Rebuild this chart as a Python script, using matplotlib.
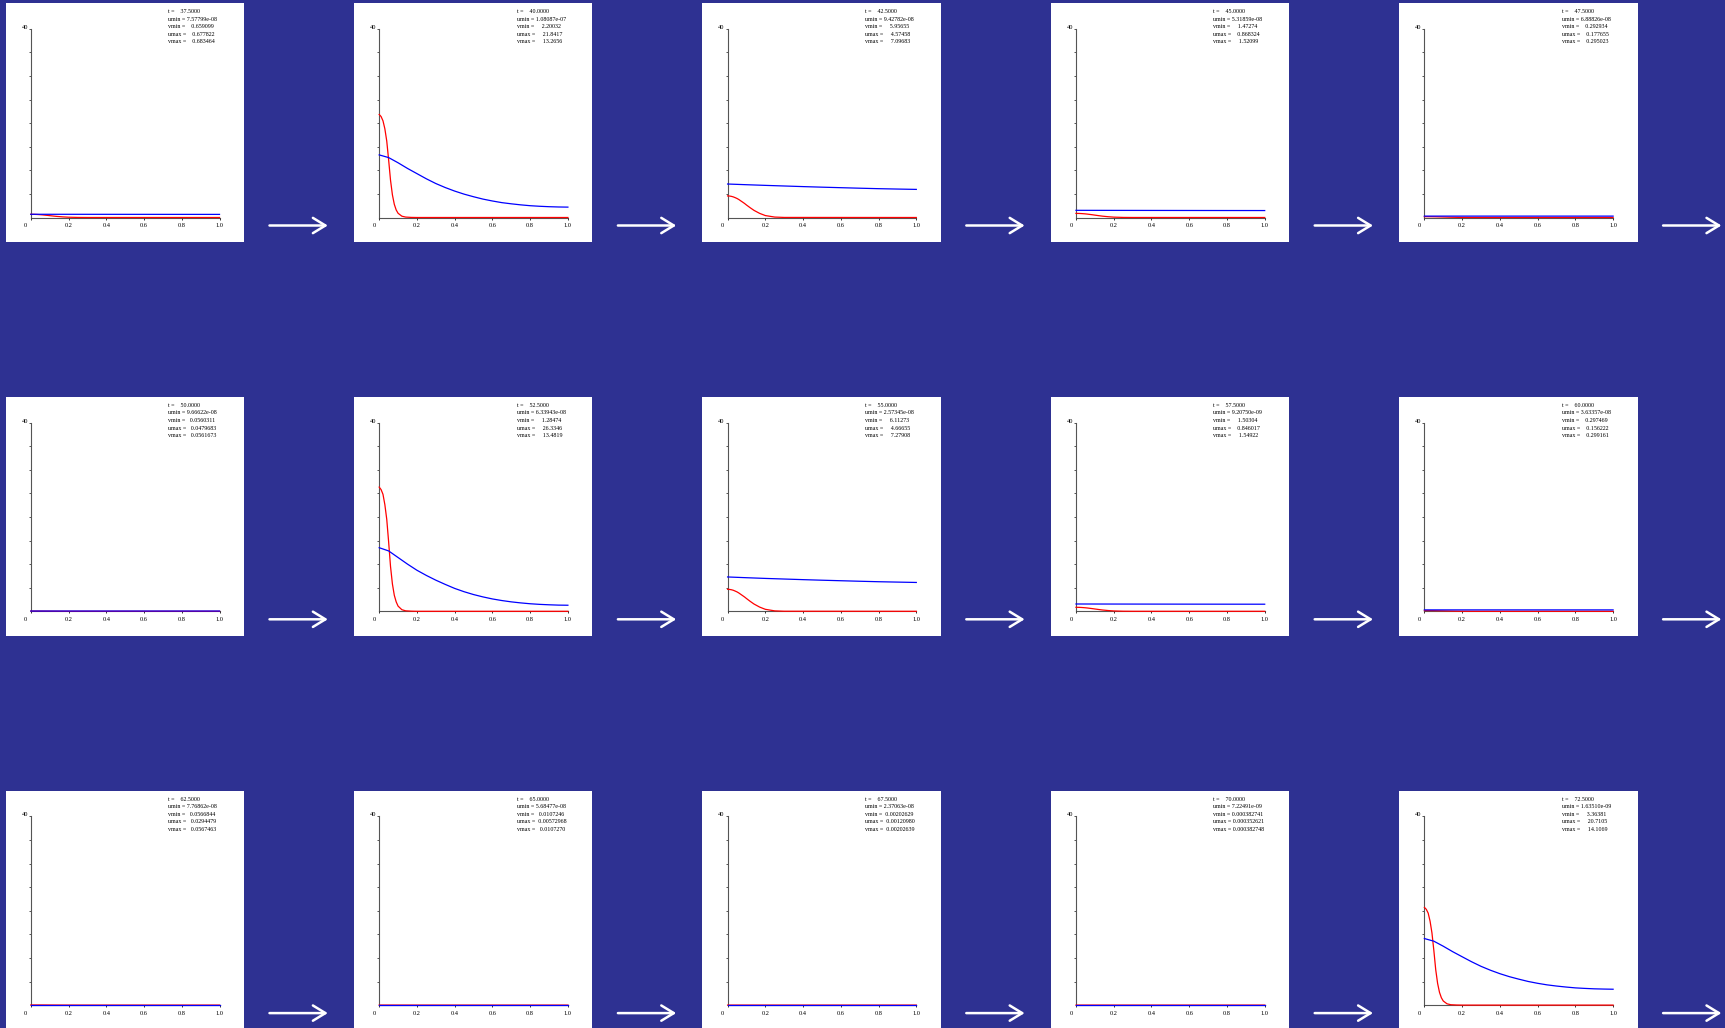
import matplotlib.pyplot as plt
from matplotlib.patches import Rectangle, FancyArrowPatch
from matplotlib.transforms import ScaledTranslation

# sample positions of the two profiles
xu = [0, 0.01, 0.02, 0.03, 0.04, 0.05, 0.06, 0.07, 0.08, 0.09, 0.10,
      0.12, 0.14, 0.17, 0.20, 0.25, 0.30, 1.0]
xv_fine = [0, 0.05, 0.1, 0.15, 0.2, 0.25, 0.3, 0.35, 0.4, 0.45, 0.5,
           0.55, 0.6, 0.65, 0.7, 0.75, 0.8, 0.85, 0.9, 0.95, 1.0]
xv_coarse = [0, 0.1, 0.2, 0.3, 0.4, 0.5, 0.6, 0.7, 0.8, 0.9, 1.0]

# time of each snapshot and the min/max readouts (as printed)
times = ['37.5000', '40.0000', '42.5000', '45.0000', '47.5000',
         '50.0000', '52.5000', '55.0000', '57.5000', '60.0000',
         '62.5000', '65.0000', '67.5000', '70.0000', '72.5000']
umin = ['7.57799e-08', '1.08087e-07', '9.42782e-08', '5.31859e-08', '6.88826e-08',
        '9.66622e-08', '6.33943e-08', '2.57345e-08', '9.20750e-09', '3.63357e-08',
        '7.76862e-08', '5.68477e-08', '2.37063e-08', '7.22491e-09', '1.63510e-09']
vmin = ['0.659099', '2.20032', '5.95655', '1.47274', '0.292934',
        '0.0560311', '1.28474', '6.11273', '1.50304', '0.297469',
        '0.0566844', '0.0107246', '0.00202629', '0.000382741', '3.36381']
umax = ['0.677822', '21.8417', '4.57458', '0.868324', '0.177655',
        '0.0479683', '26.3346', '4.66655', '0.846017', '0.156222',
        '0.0294479', '0.00572968', '0.00120980', '0.000352621', '20.7105']
vmax = ['0.683464', '13.2656', '7.09683', '1.52099', '0.295023',
        '0.0561673', '13.4819', '7.27908', '1.54922', '0.299161',
        '0.0567463', '0.0107270', '0.00202639', '0.000382748', '14.1069']

# u (red) profiles at xu
u_data = [
    [0.678, 0.675, 0.664, 0.647, 0.624, 0.597, 0.563, 0.522, 0.481, 0.441, 0.393, 0.305, 0.224, 0.129, 0.061, 0.014, 0.002, 0],
    [21.84, 21.4, 20.5, 18.8, 16.2, 12.2, 7.9, 4.8, 2.8, 1.6, 0.9, 0.28, 0.09, 0.02, 0, 0, 0, 0],
    [4.575, 4.55, 4.48, 4.37, 4.21, 4.03, 3.80, 3.52, 3.25, 2.97, 2.65, 2.06, 1.51, 0.87, 0.41, 0.09, 0.014, 0],
    [0.868, 0.864, 0.851, 0.829, 0.799, 0.764, 0.720, 0.668, 0.616, 0.564, 0.503, 0.391, 0.286, 0.165, 0.078, 0.017, 0.003, 0],
    [0.178, 0.177, 0.174, 0.17, 0.164, 0.157, 0.148, 0.137, 0.126, 0.116, 0.103, 0.08, 0.059, 0.034, 0.016, 0.004, 0.001, 0],
    [0.048, 0.048, 0.047, 0.046, 0.044, 0.042, 0.04, 0.037, 0.034, 0.031, 0.028, 0.022, 0.016, 0.009, 0.004, 0.001, 0, 0],
    [26.33, 25.8, 24.8, 22.6, 19.5, 14.7, 9.5, 5.8, 3.4, 2.0, 1.1, 0.34, 0.1, 0.03, 0, 0, 0, 0],
    [4.667, 4.64, 4.57, 4.46, 4.29, 4.11, 3.87, 3.59, 3.31, 3.03, 2.71, 2.10, 1.54, 0.89, 0.42, 0.09, 0.014, 0],
    [0.846, 0.842, 0.829, 0.808, 0.778, 0.744, 0.702, 0.651, 0.601, 0.550, 0.491, 0.381, 0.279, 0.161, 0.076, 0.017, 0.003, 0],
    [0.156, 0.155, 0.153, 0.149, 0.144, 0.137, 0.129, 0.120, 0.111, 0.101, 0.090, 0.070, 0.051, 0.030, 0.014, 0.003, 0, 0],
    [0.0294, 0.0293, 0.0288, 0.0281, 0.027, 0.0259, 0.0244, 0.0226, 0.0209, 0.0191, 0.0171, 0.0132, 0.0097, 0.0056, 0.0026, 0.0006, 0.0001, 0],
    [0.00573, 0.0057, 0.0056, 0.0055, 0.0053, 0.005, 0.0048, 0.0044, 0.0041, 0.0037, 0.0033, 0.0026, 0.0019, 0.0011, 0.0005, 0.0001, 0, 0],
    [0.00121, 0.0012, 0.00119, 0.00116, 0.00111, 0.00106, 0.001, 0.00093, 0.00086, 0.00079, 0.0007, 0.00054, 0.0004, 0.00023, 0.00011, 0.00002, 0, 0],
    [0.000353, 0.000351, 0.000346, 0.000337, 0.000325, 0.000311, 0.000293, 0.000272, 0.000251, 0.000229, 0.000205, 0.000159, 0.000116, 0.000067, 0.000032, 0.000007, 0.000001, 0],
    [20.71, 20.3, 19.5, 17.8, 15.3, 11.6, 7.5, 4.6, 2.7, 1.55, 0.87, 0.27, 0.08, 0.02, 0, 0, 0, 0],
]

# v (blue) profiles: 21 values -> xv_fine, 11 values -> xv_coarse
v_data = [
    [0.683, 0.681, 0.679, 0.676, 0.673, 0.670, 0.668, 0.665, 0.663, 0.661, 0.659],
    [13.27, 12.7, 11.6, 10.4, 9.3, 8.2, 7.2, 6.35, 5.6, 4.95, 4.4,
     3.9, 3.5, 3.15, 2.9, 2.68, 2.5, 2.38, 2.29, 2.23, 2.2],
    [7.097, 6.95, 6.81, 6.68, 6.55, 6.43, 6.32, 6.21, 6.11, 6.03, 5.957],
    [1.521, 1.515, 1.509, 1.503, 1.498, 1.493, 1.488, 1.483, 1.479, 1.476, 1.473],
    [0.2950, 0.2948, 0.2946, 0.2944, 0.2942, 0.2940, 0.2938, 0.2936, 0.2934, 0.2932, 0.2929],
    [0.0562, 0.0562, 0.0562, 0.0561, 0.0561, 0.0561, 0.0561, 0.0561, 0.0560, 0.0560, 0.0560],
    [13.48, 12.8, 11.4, 10.0, 8.7, 7.6, 6.6, 5.7, 4.85, 4.15, 3.55,
     3.05, 2.62, 2.28, 2.0, 1.78, 1.6, 1.47, 1.38, 1.31, 1.285],
    [7.279, 7.12, 6.97, 6.84, 6.71, 6.59, 6.48, 6.37, 6.27, 6.19, 6.114],
    [1.549, 1.543, 1.537, 1.531, 1.526, 1.521, 1.516, 1.512, 1.508, 1.505, 1.503],
    [0.2992, 0.2990, 0.2988, 0.2986, 0.2984, 0.2982, 0.2980, 0.2978, 0.2977, 0.2976, 0.2975],
    [0.0567, 0.0567, 0.0567, 0.0567, 0.0567, 0.0567, 0.0567, 0.0567, 0.0567, 0.0567, 0.0567],
    [0.01073, 0.01073, 0.01073, 0.01073, 0.01073, 0.01073, 0.01073, 0.01073, 0.01073, 0.01073, 0.01072],
    [0.002026, 0.002026, 0.002026, 0.002026, 0.002026, 0.002026, 0.002026, 0.002026, 0.002026, 0.002026, 0.002026],
    [0.000383, 0.000383, 0.000383, 0.000383, 0.000383, 0.000383, 0.000383, 0.000383, 0.000383, 0.000383, 0.000383],
    [14.107, 13.55, 12.48, 11.32, 10.25, 9.19, 8.22, 7.39, 6.66, 6.03, 5.5,
     5.01, 4.62, 4.29, 4.04, 3.83, 3.65, 3.54, 3.45, 3.40, 3.364],
]

xtick_vals = [0, 0.2, 0.4, 0.6, 0.8, 1.0]
xtick_text = ['0', '0.2', '0.4', '0.6', '0.8', '1.0']
ytick_vals = [5, 10, 15, 20, 25, 30, 35, 40]
ytick_text = ['', '', '', '', '', '', '', '40']

W, H = 1725, 1028
BG = '#2E3192'
SERIF = ['Liberation Serif', 'DejaVu Serif']

fig = plt.figure(figsize=(W / 100, H / 100), dpi=100)
fig.patch.set_facecolor(BG)


def fx(px):
    return px / W


def fy(py):
    return 1 - py / H


panel_w = 238.5
col_step = 348.4
row_step = 393.8

for i in range(15):
    r, c = divmod(i, 5)
    left = 5.5 + c * col_step
    top = 3.5 + r * row_step

    # white card, behind the axes
    fig.patches.append(Rectangle((fx(left), fy(top + panel_w)), panel_w / W, panel_w / H,
                                 transform=fig.transFigure, facecolor='white',
                                 edgecolor='none', zorder=-5))

    ax = fig.add_axes([fx(left + 25.3), fy(top + 214), 188.7 / W, 188.7 / H])
    ax.set_facecolor('none')
    xv = xv_fine if len(v_data[i]) == len(xv_fine) else xv_coarse
    ax.plot(xu, u_data[i], color='#ff0000', lw=0.9, zorder=3, clip_on=False)
    ax.plot(xv, v_data[i], color='#0000ff', lw=0.9, zorder=4, clip_on=False)
    ax.set_xlim(0, 1)
    ax.set_ylim(0, 40)
    for s in ['top', 'right']:
        ax.spines[s].set_visible(False)
    for s in ['left', 'bottom']:
        ax.spines[s].set_color('#555555')
        ax.spines[s].set_linewidth(0.8)
        ax.spines[s].set_zorder(1)
    ax.set_xticks(xtick_vals, xtick_text)
    ax.set_yticks(ytick_vals, ytick_text)
    ax.tick_params(axis='x', length=1.2, width=0.7, color='#333333', pad=3.0,
                   labelsize=4.6, direction='out')
    ax.tick_params(axis='y', length=1.6, width=0.7, color='#555555', pad=0.5,
                   labelsize=4.6, direction='out')
    for lab in ax.get_xticklabels() + ax.get_yticklabels():
        lab.set_family(SERIF)
    ax.get_xticklabels()[0].set_transform(
        ax.get_xticklabels()[0].get_transform()
        + ScaledTranslation(-5 / 100, 0, fig.dpi_scale_trans))
    ax.get_yticklabels()[-1].set_transform(
        ax.get_yticklabels()[-1].get_transform()
        + ScaledTranslation(0, 2 / 100, fig.dpi_scale_trans))

    # readout block
    lines = ['t =    ' + times[i],
             'umin = ' + umin[i],
             'vmin = ' + ' ' * max(0, 11 - len(vmin[i])) + vmin[i],
             'umax = ' + ' ' * max(0, 11 - len(umax[i])) + umax[i],
             'vmax = ' + ' ' * max(0, 11 - len(vmax[i])) + vmax[i]]
    for k, s in enumerate(lines):
        fig.text(fx(left + 162.8), fy(top + 8.0 + k * 7.6), s, fontsize=4.3,
                 family=SERIF, va='center', ha='left', color='black')

    # arrow to the next snapshot
    ay = top + 222
    fig.add_artist(FancyArrowPatch((fx(left + 264), fy(ay)), (fx(left + 322.3), fy(ay)),
                                   transform=fig.transFigure, color='white', lw=1.8,
                                   arrowstyle='->,head_length=9,head_width=5.5',
                                   mutation_scale=1, shrinkA=0, shrinkB=0))

fig.savefig('out.png', dpi=100, facecolor=BG)
